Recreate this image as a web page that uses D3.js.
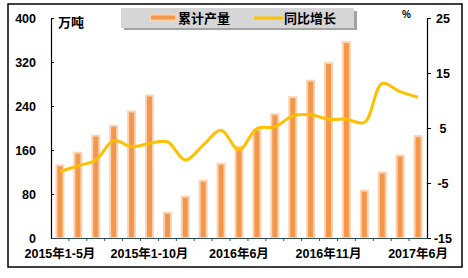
<!DOCTYPE html>
<html><head><meta charset="utf-8">
<script src="https://cdn.jsdelivr.net/npm/d3@7"></script>
<style>
html,body{margin:0;padding:0;background:#fff;}
text{font-family:"Liberation Sans","Noto Sans CJK SC",Arial,sans-serif;font-weight:bold;}
</style></head>
<body><svg id="c" width="468" height="278"></svg>
<script>
const categories = ["2015年1-5月","2015年1-6月","2015年1-7月","2015年1-8月","2015年1-9月","2015年1-10月",
 "2016年2月","2016年3月","2016年4月","2016年5月","2016年6月","2016年7月","2016年8月","2016年9月","2016年10月","2016年11月","2016年12月",
 "2017年3月","2017年4月","2017年5月","2017年6月"];
const output = [132,155,186,204,230,259,46,75,104,135,166,197,225,256,286,318,356,86,119,150,185];
const growth = [-2.9,-1.9,-0.8,2.7,1.6,2.2,2.5,-0.8,1.9,4.6,1.0,4.9,5.2,7.2,7.4,6.6,6.6,6.0,13.1,11.6,10.6];
const leftTicks = [0,80,160,240,320,400];
const rightTicks = [-15,-5,5,15,25];
const labelIdx = [0,5,10,15,20];

const svg = d3.select("#c");
const L = 51, R = 427, T = 18, B = 238;
const x = d3.scaleBand().domain(categories).range([L, R]).padding(0);
const yL = d3.scaleLinear().domain([0,400]).range([B, T]);
const yR = d3.scaleLinear().domain([-15,25]).range([B, T]);

// frame
svg.append("rect").attr("x",8).attr("y",4).attr("width",454).attr("height",263)
  .attr("fill","none").attr("stroke","#000").attr("stroke-width",1.5);

// bars
svg.append("g").selectAll("rect").data(output).join("rect")
  .attr("x",(d,i)=>x(categories[i])+x.bandwidth()/2-3.5)
  .attr("width",7)
  .attr("y",d=>yL(d))
  .attr("height",d=>B-yL(d))
  .attr("fill","#F4974B").attr("stroke","#FBD3B3").attr("stroke-width",2);

// line
const line = d3.line().x((d,i)=>x(categories[i])+x.bandwidth()/2).y(d=>yR(d)).curve(d3.curveCatmullRom.alpha(0.5));
svg.append("path").datum(growth).attr("d",line).attr("fill","none")
  .attr("stroke","#FFC000").attr("stroke-width",3);

// left axis
const gl = svg.append("g").attr("transform",`translate(${L},0)`)
  .call(d3.axisRight(yL).tickValues(leftTicks).tickSize(3).tickFormat(""));
gl.select(".domain").attr("stroke","#000").attr("stroke-width",1.2);
gl.selectAll("line").attr("stroke","#000");
svg.append("g").selectAll("text").data(leftTicks).join("text")
  .attr("x",36).attr("y",d=>yL(d)+4.5).attr("text-anchor","end")
  .attr("font-size",12.5).text(d=>d);

// right axis
const gr = svg.append("g").attr("transform",`translate(${R},0)`)
  .call(d3.axisRight(yR).tickValues(rightTicks).tickSize(4).tickFormat(""));
gr.select(".domain").attr("stroke","#000").attr("stroke-width",1.2);
gr.selectAll("line").attr("stroke","#000");
svg.append("g").selectAll("text").data(rightTicks).join("text")
  .attr("x",443).attr("y",d=>yR(d)+4.5).attr("text-anchor","middle")
  .attr("font-size",12.5).text(d=>d);

// bottom axis
const gb = svg.append("g").attr("transform",`translate(0,${B})`)
  .call(d3.axisBottom(x).tickValues([]).tickSizeOuter(0));
gb.select(".domain").attr("stroke","#2A4E5C").attr("stroke-width",1.2);
svg.append("g").selectAll("line").data(categories.slice(1)).join("line")
  .attr("x1",d=>x(d)).attr("x2",d=>x(d)).attr("y1",B).attr("y2",B+3)
  .attr("stroke","#2A4E5C");
svg.append("g").selectAll("text").data(labelIdx).join("text")
  .attr("x",i=>x(categories[i])+x.bandwidth()/2).attr("y",258)
  .attr("text-anchor","middle").attr("font-size",12.5)
  .text(i=>categories[i].replace(/^(\d{4}年)1-(\d+)月$/, (m,a,b)=> (i===0||i===5)? m : a+b+"月"));

// unit labels
svg.append("text").attr("x",58).attr("y",27).attr("font-size",13).text("万吨");
svg.append("text").attr("x",402).attr("y",18).attr("font-size",10).text("%");

// legend
const lg = svg.append("g");
lg.append("rect").attr("x",124).attr("y",11).attr("width",233).attr("height",19).attr("fill","#8c8c8c").attr("opacity",0.8);
lg.append("rect").attr("x",121).attr("y",8).attr("width",233).attr("height",20).attr("fill","#D6D6D6");
lg.append("rect").attr("x",150).attr("y",14.5).attr("width",26).attr("height",6)
  .attr("fill","#F4974B").attr("stroke","#FBD3B3").attr("stroke-width",2);
lg.append("text").attr("x",178).attr("y",23).attr("font-size",13).text("累计产量");
lg.append("line").attr("x1",254).attr("x2",283).attr("y1",18).attr("y2",18).attr("stroke","#FFC000").attr("stroke-width",3);
lg.append("text").attr("x",284).attr("y",23).attr("font-size",13).text("同比增长");
</script></body></html>
